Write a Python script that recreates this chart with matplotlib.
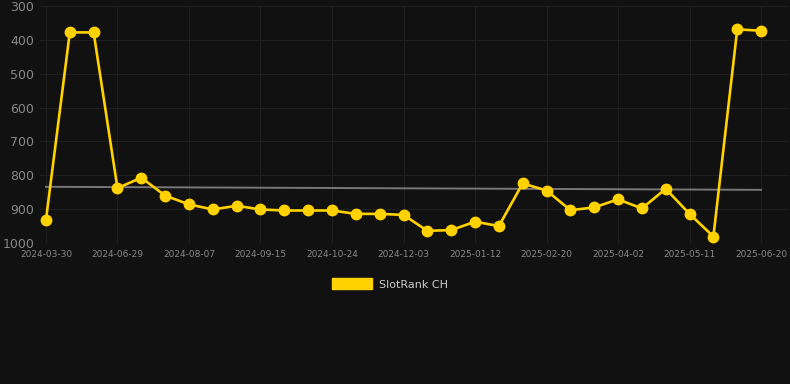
import numpy as np
import matplotlib.pyplot as plt
from matplotlib.patches import Patch

dates = ['2024-03-30', '2024-05-10', '2024-06-01', '2024-06-29', '2024-07-12', '2024-07-25',
         '2024-08-07', '2024-08-20', '2024-09-02', '2024-09-15', '2024-09-28', '2024-10-11',
         '2024-10-24', '2024-11-06', '2024-11-20', '2024-12-03', '2024-12-16', '2024-12-30',
         '2025-01-12', '2025-01-25', '2025-02-07', '2025-02-20', '2025-03-06', '2025-03-19',
         '2025-04-02', '2025-04-15', '2025-04-28', '2025-05-11', '2025-05-24', '2025-06-07',
         '2025-06-20']
rank = [932, 378, 378, 838, 807, 860, 886, 901, 890, 901, 904, 904, 904, 914, 914, 917,
        964, 962, 937, 950, 824, 845, 903, 895, 871, 898, 840, 914, 981, 369, 373]
# trend line ends
trend = [834, 843]

bg = '#111111'
fig = plt.figure(figsize=(7.9, 3.84), dpi=100, facecolor=bg)
ax = fig.add_axes([40 / 790, 1 - 243 / 384, 748 / 790, 237 / 384], facecolor=bg)

x = np.arange(len(rank))
ax.plot(x, rank, color='#FFD200', lw=1.9, marker='o', ms=7.5, zorder=3)
ax.plot([x[0], x[-1]], trend, color='#777777', lw=1.4, zorder=2)

ax.set_ylim(1000, 300)
ax.set_xlim(-0.25, 31.13)
ax.set_yticks(range(300, 1001, 100))
ax.set_xticks(x[::3])
ax.set_xticklabels(dates[::3])
ax.grid(color='#1f1f1f', lw=0.8)
ax.tick_params(axis='y', colors='#888888', labelsize=9, length=0, pad=4)
ax.tick_params(axis='x', colors='#888888', labelsize=6.5, length=0, pad=5)
for s in ax.spines.values():
    s.set_visible(False)

fig.legend(handles=[Patch(color='#FFD200', label='SlotRank CH')], loc='center',
           bbox_to_anchor=(0.5 - 5 / 790, 1 - 284 / 384), frameon=False, fontsize=8,
           labelcolor='#cccccc', handlelength=3.6, handleheight=1.1, handletextpad=0.6)

fig.savefig('out.png', dpi=100, facecolor=bg)
